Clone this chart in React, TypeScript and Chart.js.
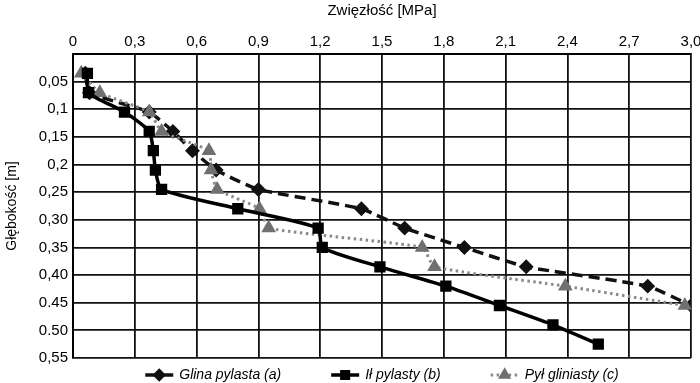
import React, { useEffect, useRef } from 'react';
import { Chart, registerables } from 'chart.js';
import { drawPoint } from 'chart.js/helpers';
Chart.register(...registerables);

const seriesNames = ['Glina pylasta (a)', 'Ił pylasty (b)', 'Pył gliniasty (c)'];

const depthA = [0.035, 0.07, 0.105, 0.14, 0.175, 0.21, 0.245, 0.28, 0.315, 0.35, 0.385, 0.42, 0.455];
const valuesA = [0.06, 0.08, 0.37, 0.485, 0.58, 0.695, 0.9, 1.4, 1.61, 1.9, 2.2, 2.79, 3.0];

const depthB = [0.035, 0.07, 0.105, 0.14, 0.175, 0.21, 0.245, 0.28, 0.315, 0.35, 0.385, 0.42, 0.455, 0.49, 0.525];
const valuesB = [0.07, 0.075, 0.25, 0.37, 0.39, 0.4, 0.43, 0.8, 1.19, 1.21, 1.49, 1.81, 2.07, 2.33, 2.55];

const depthC = [0.035, 0.07, 0.105, 0.14, 0.175, 0.21, 0.245, 0.28, 0.315, 0.35, 0.385, 0.42, 0.455];
const valuesC = [0.04, 0.13, 0.37, 0.43, 0.66, 0.67, 0.7, 0.905, 0.95, 1.695, 1.755, 2.39, 2.97];

const xTickValues = [0, 0.3, 0.6, 0.9, 1.2, 1.5, 1.8, 2.1, 2.4, 2.7, 3.0];
const xTickLabels = ['0', '0,3', '0,6', '0,9', '1,2', '1,5', '1,8', '2,1', '2,4', '2,7', '3,0'];
const yTickValues = [0, 0.05, 0.1, 0.15, 0.2, 0.25, 0.3, 0.35, 0.4, 0.45, 0.5, 0.55];
const yTickLabels = ['', '0,05', '0,1', '0,15', '0,2', '0,25', '0,30', '0,35', '0,40', '0.45', '0.50', '0,55'];

const FONT = '"Liberation Sans", Arial, sans-serif';

const toPoints = (xs: number[], ys: number[]) => xs.map((x, i) => ({ x, y: ys[i] }));

export default function App() {
  const ref = useRef<HTMLCanvasElement>(null);
  useEffect(() => {
    if (!ref.current) return;
    const legendPlugin = {
      id: 'customLegend',
      afterDraw(chart: any) {
        const ctx = chart.ctx as CanvasRenderingContext2D;
        ctx.save();
        ctx.font = 'italic 14px ' + FONT;
        const sampleW = 28, gap = 6, itemGap = 50;
        const dss = chart.data.datasets;
        const widths = dss.map((ds: any) => ctx.measureText(ds.label).width);
        const total = widths.reduce((a: number, w: number) => a + sampleW + gap + w, 0) + itemGap * (dss.length - 1);
        let x = (chart.chartArea.left + chart.chartArea.right) / 2 - total / 2;
        const y = 375;
        dss.forEach((ds: any, i: number) => {
          ctx.strokeStyle = ds.borderColor;
          ctx.lineWidth = ds.borderWidth;
          ctx.lineCap = ds.borderCapStyle || 'butt';
          ctx.setLineDash(ds.legendDash || []);
          ctx.beginPath();
          ctx.moveTo(x, y);
          ctx.lineTo(x + sampleW, y);
          ctx.stroke();
          ctx.setLineDash([]);
          ctx.fillStyle = ds.pointBackgroundColor;
          ctx.strokeStyle = ds.pointBorderColor;
          drawPoint(ctx, { pointStyle: ds.pointStyle, radius: ds.pointRadius * 0.85, rotation: 0, borderWidth: 1 }, x + sampleW / 2, y);
          ctx.fillStyle = '#000';
          ctx.textBaseline = 'middle';
          ctx.textAlign = 'left';
          ctx.fillText(ds.label, x + sampleW + gap, y);
          x += sampleW + gap + widths[i] + itemGap;
        });
        ctx.restore();
      },
    };

    const chart = new Chart(ref.current, {
      type: 'scatter',
      data: {
        datasets: [
          {
            label: seriesNames[0],
            data: toPoints(valuesA, depthA),
            showLine: true,
            order: 2,
            borderColor: '#111',
            borderWidth: 3.5,
            borderDash: [11, 6],
            legendDash: [],
            pointStyle: 'rectRot',
            pointRadius: 5,
            pointBackgroundColor: '#111',
            pointBorderColor: '#111',
            tension: 0.15,
          } as any,
          {
            label: seriesNames[1],
            data: toPoints(valuesB, depthB),
            showLine: true,
            order: 0,
            borderColor: '#000',
            borderWidth: 3.5,
            pointStyle: 'rect',
            pointRadius: 5.5,
            pointBackgroundColor: '#000',
            pointBorderColor: '#000',
            tension: 0.2,
          } as any,
          {
            label: seriesNames[2],
            data: toPoints(valuesC, depthC),
            showLine: true,
            order: 1,
            borderColor: '#8a8a8a',
            borderWidth: 3,
            borderDash: [2.5, 3.5],
            legendDash: [2.5, 3.5],
            pointStyle: 'triangle',
            pointRadius: 5.5,
            pointBackgroundColor: '#707070',
            pointBorderColor: '#707070',
            tension: 0.15,
          } as any,
        ],
      },
      options: {
        responsive: false,
        animation: false,
        layout: { padding: { top: 0, left: 0, right: 7, bottom: 25 } },
        plugins: { legend: { display: false }, tooltip: { enabled: false } },
        scales: {
          x: {
            type: 'linear',
            position: 'top',
            min: 0,
            max: 3,
            afterBuildTicks: (s: any) => { s.ticks = xTickValues.map((v) => ({ value: v })); },
            afterFit: (s: any) => { s.height = 54; s.paddingLeft = 0; s.paddingRight = 0; },
            ticks: {
              autoSkip: false,
              maxRotation: 0,
              color: '#000',
              font: { family: FONT, size: 15 },
              padding: 3,
              callback: (_v: any, i: number) => xTickLabels[i],
            },
            grid: { color: '#111', lineWidth: 1.8, drawTicks: false },
            border: { color: '#000', width: 2 },
            title: {
              display: true,
              text: 'Zwięzłość [MPa]',
              color: '#000',
              font: { family: FONT, size: 15 },
              padding: { top: 2, bottom: 4 },
            },
          },
          y: {
            type: 'linear',
            reverse: true,
            min: 0,
            max: 0.55,
            afterBuildTicks: (s: any) => { s.ticks = yTickValues.map((v) => ({ value: v })); },
            afterFit: (s: any) => { s.width = 73; },
            ticks: {
              autoSkip: false,
              color: '#000',
              font: { family: FONT, size: 15 },
              padding: 5,
              callback: (_v: any, i: number) => yTickLabels[i],
            },
            grid: { color: '#111', lineWidth: 1.8, drawTicks: false },
            border: { color: '#000', width: 2 },
            title: {
              display: true,
              text: 'Głębokość [m]',
              color: '#000',
              font: { family: FONT, size: 14 },
              padding: { top: 4, bottom: 2 },
            },
          },
        },
      } as any,
      plugins: [legendPlugin],
    });
    return () => chart.destroy();
  }, []);

  return (
    <div style={{ position: 'absolute', left: 0, top: 0, width: 700, height: 383, background: '#fff' }}>
      <canvas ref={ref} width={700} height={383} />
    </div>
  );
}
